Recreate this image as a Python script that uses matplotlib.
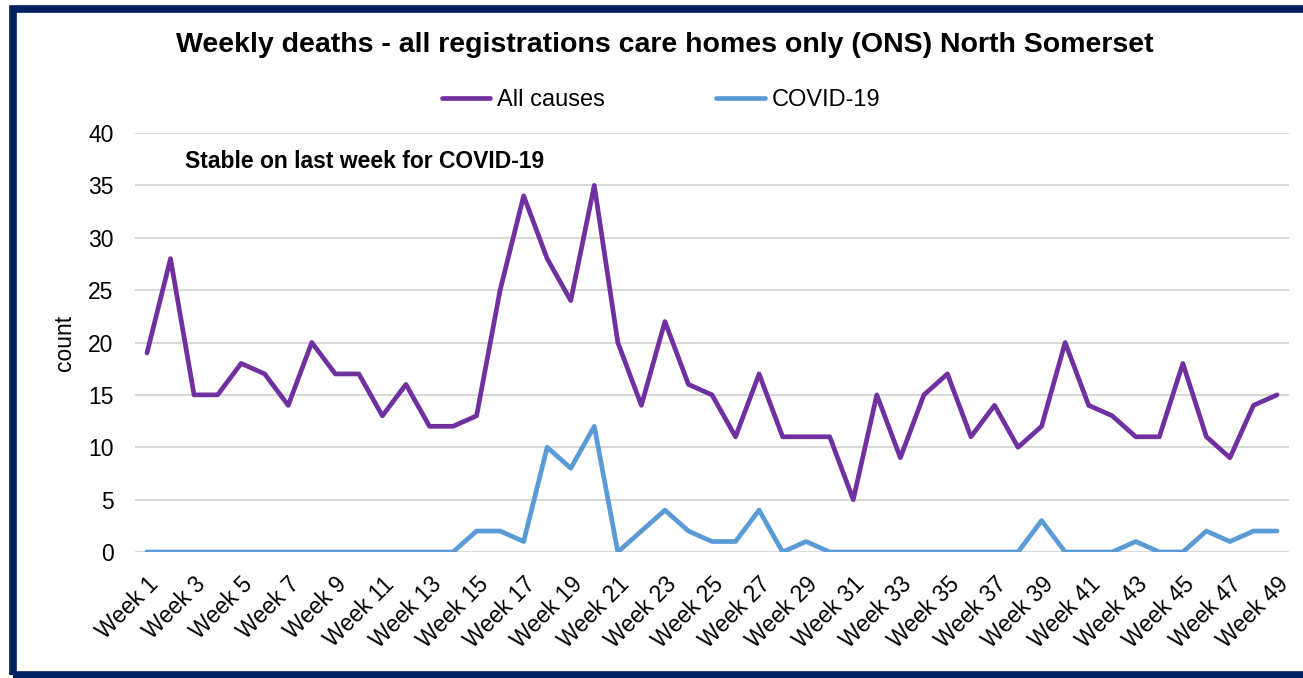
import matplotlib
matplotlib.use("Agg")
import matplotlib.pyplot as plt
from matplotlib.patches import Rectangle

plt.rcParams['font.family'] = ['Liberation Sans', 'DejaVu Sans']

weeks = list(range(1, 50))
week_labels = [f"Week {w}" for w in weeks]
all_causes = [19, 28, 15, 15, 18, 17, 14, 20, 17, 17, 13, 16, 12, 12, 13, 25, 34, 28, 24, 35,
              20, 14, 22, 16, 15, 11, 17, 11, 11, 11, 5, 15, 9, 15, 17, 11, 14, 10, 12, 20,
              14, 13, 11, 11, 18, 11, 9, 14, 15]
covid = [0, 0, 0, 0, 0, 0, 0, 0, 0, 0, 0, 0, 0, 0, 2, 2, 1, 10, 8, 12,
         0, 2, 4, 2, 1, 1, 4, 0, 1, 0, 0, 0, 0, 0, 0, 0, 0, 0, 3, 0,
         0, 0, 1, 0, 0, 2, 1, 2, 2]
y_ticks = [0, 5, 10, 15, 20, 25, 30, 35, 40]

W, H = 1303, 678
fig = plt.figure(figsize=(W / 100, H / 100), dpi=100)
ax = fig.add_axes([135.2 / W, 1 - 552 / H, (1288.8 - 135.2) / W, (552 - 133) / H])

ax.plot(weeks, all_causes, color='#7030A0', lw=3.4, label='All causes', solid_capstyle='round', solid_joinstyle='round')
ax.plot(weeks, covid, color='#5B9BD5', lw=3.4, label='COVID-19', solid_capstyle='round', solid_joinstyle='round')

ax.set_xlim(0.5, 49.5)
ax.set_ylim(0, 40)
ax.set_yticks(y_ticks)
ax.set_yticklabels([str(v) for v in y_ticks], fontsize=16.5)
ax.set_xticks(weeks[::2])
ax.set_xticklabels(week_labels[::2], rotation=45, ha='right', va='top', rotation_mode='anchor', fontsize=16.5)
ax.tick_params(axis='both', length=0)
ax.tick_params(axis='y', pad=15.5)
ax.tick_params(axis='x', pad=15)
ax.grid(axis='y', color='#D9D9D9', lw=1.5)
ax.set_axisbelow(True)
for s in ax.spines.values():
    s.set_visible(False)
ax.set_ylabel('count', fontsize=16.5, labelpad=9)

fig.text(665 / W, 1 - 45 / H, 'Weekly deaths - all registrations care homes only (ONS) North Somerset',
         ha='center', va='center', fontsize=20.5, fontweight='bold')
ax.text(185 / W, 1 - 162 / H, 'Stable on last week for COVID-19', transform=fig.transFigure,
        ha='left', va='center', fontsize=16.5, fontweight='bold')

leg = fig.legend(loc='center', bbox_to_anchor=(661 / W, 1 - 100 / H), ncol=2, frameon=False,
                 fontsize=17, handlelength=2.05, handletextpad=0.3, columnspacing=4.7)

fig.patches.append(Rectangle((13 / W, 3 / H), 1.5, 1 - 12 / H, transform=fig.transFigure,
                             fill=False, edgecolor='#002060', lw=5.5))

fig.savefig('out.png', dpi=100)
